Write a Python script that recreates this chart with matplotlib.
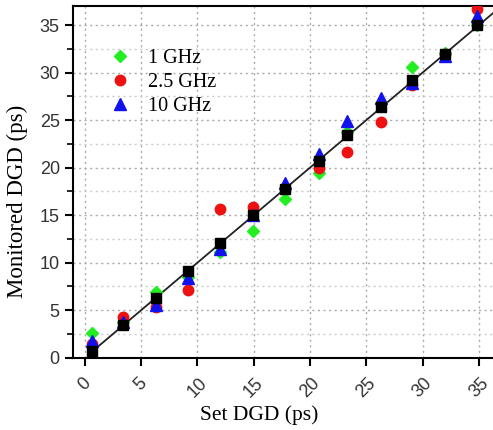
import matplotlib
matplotlib.use("Agg")
import matplotlib.pyplot as plt
from matplotlib.ticker import MultipleLocator

# set DGD values (ps)
set_dgd = [0.6, 3.4, 6.3, 9.2, 12.0, 14.9, 17.8, 20.8, 23.3, 26.3, 29.1, 32.0, 34.8]

# monitored DGD for each clock frequency (ps)
mon_1ghz = [2.6, 3.8, 6.9, 8.5, 11.1, 13.3, 16.7, 19.4, 23.7, 26.8, 30.6, 32.1, 35.0]
mon_2_5ghz = [1.4, 4.3, 5.3, 7.1, 15.7, 15.9, 17.9, 20.0, 21.6, 24.8, 28.7, 32.0, 36.7]
mon_10ghz = [1.8, 3.8, 5.6, 8.4, 11.4, 15.0, 18.4, 21.4, 24.9, 27.3, 28.9, 31.7, 36.0]
mon_avg = [0.7, 3.4, 6.3, 9.1, 12.1, 15.0, 17.8, 20.7, 23.4, 26.4, 29.2, 32.0, 35.0]

# reference line
fit_x = [0.6, 36.5]
fit_y = [0.6, 36.5]

fig = plt.figure(figsize=(4.93, 4.30), dpi=100)
ax = fig.add_axes([0.148, 0.168, 0.86, 0.818])

ax.plot(fit_x, fit_y, color="#222222", lw=1.3, zorder=2)
ax.plot(set_dgd, mon_1ghz, "D", color="#22ee22", ms=6.5, ls="none", label="1 GHz", zorder=3)
ax.plot(set_dgd, mon_2_5ghz, "o", color="#ee1111", ms=7.5, ls="none", label="2.5 GHz", zorder=3)
ax.plot(set_dgd, mon_10ghz, "^", color="#1111ee", ms=8.5, ls="none", label="10 GHz", zorder=3)
ax.plot(set_dgd, mon_avg, "s", color="black", ms=7, ls="none", zorder=4)

ax.set_xlim(-1.05, 36.6)
ax.set_ylim(0, 37)
ax.xaxis.set_major_locator(MultipleLocator(5))
ax.yaxis.set_major_locator(MultipleLocator(5))
ax.yaxis.set_minor_locator(MultipleLocator(2.5))

ax.grid(True, which="major", ls=(0, (1.5, 2.5)), color="#aaaaaa", lw=1.0)
ax.grid(True, which="minor", axis="y", ls=(0, (1.5, 2.5)), color="#cccccc", lw=1.0)
ax.set_axisbelow(True)

for s in ["top", "left", "bottom"]:
    ax.spines[s].set_linewidth(1.5)
ax.spines["right"].set_visible(False)

ax.tick_params(which="major", direction="out", length=6, width=1.5)
ax.tick_params(which="minor", direction="out", length=4, width=1.2)
ax.tick_params(axis="x", pad=6)
ax.tick_params(labelsize=13)
for lab in ax.get_xticklabels() + ax.get_yticklabels():
    lab.set_family("Liberation Sans")
    lab.set_color("#333333")
for lab in ax.get_xticklabels():
    lab.set_rotation(45)
    lab.set_ha("center")
    lab.set_va("top")

ax.set_xlabel("Set DGD (ps)", family="Liberation Serif", fontsize=15.5, va="center")
ax.set_ylabel("Monitored DGD (ps)", family="Liberation Serif", fontsize=16.5, va="center")
ax.xaxis.set_label_coords(0.44, -0.162)
ax.yaxis.set_label_coords(-0.13, 0.446)

ax.legend(loc="upper left", bbox_to_anchor=(0.04, 0.93), frameon=False,
          prop={"family": "Liberation Serif", "size": 14.5},
          handletextpad=0.8, labelspacing=0.25, handlelength=1.2)

fig.savefig("out.png", dpi=100)
